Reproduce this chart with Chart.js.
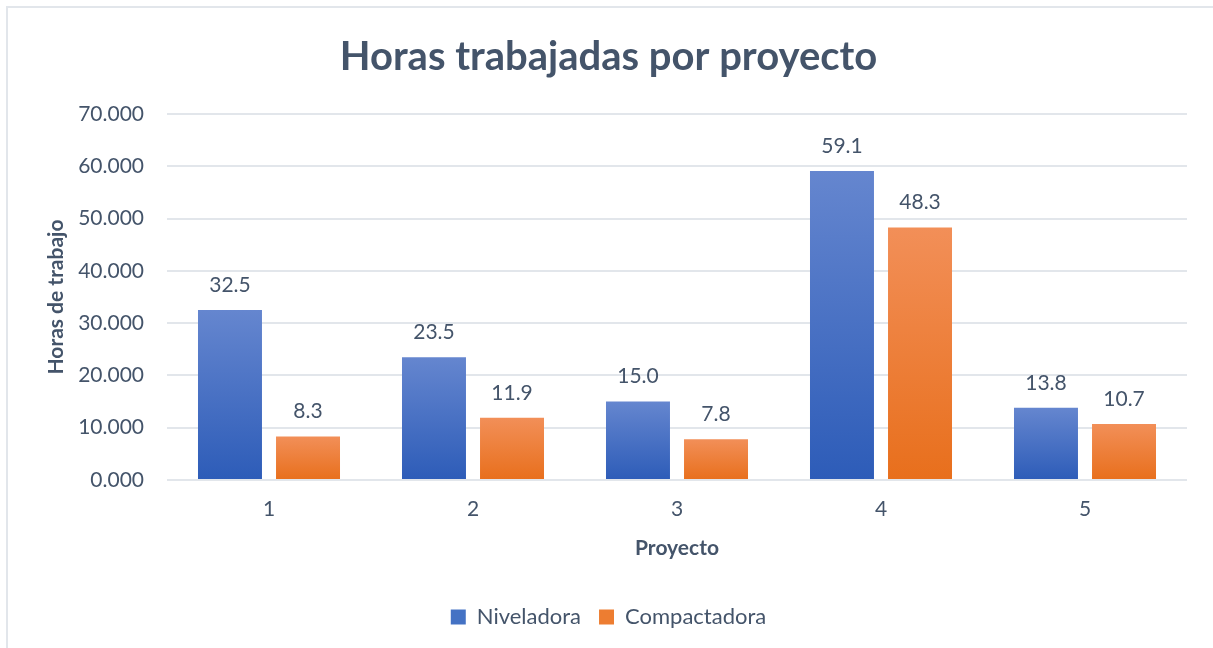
<!DOCTYPE html>
<html>
<head>
<meta charset="utf-8">
<script src="https://cdn.jsdelivr.net/npm/chart.js@4"></script>
<style>
  html, body { margin: 0; padding: 0; background: #ffffff; }
  #frame { position: absolute; left: 6px; top: 6px; width: 1240px; height: 680px; border: 2px solid #E2E6EB; box-sizing: border-box; }
  #wrap { position: absolute; left: 0; top: 0; width: 1213px; height: 648px; }
</style>
</head>
<body>
<div id="frame"></div>
<div id="wrap"><canvas id="c" width="1213" height="648"></canvas></div>
<script>
const categories = ['1', '2', '3', '4', '5'];
const niveladora = [32.5, 23.5, 15.0, 59.1, 13.8];
const compactadora = [8.3, 11.9, 7.8, 48.3, 10.7];
const seriesNames = ['Niveladora', 'Compactadora'];
const chartTitle = 'Horas trabajadas por proyecto';
const yTitle = 'Horas de trabajo';
const xTitle = 'Proyecto';

const TEXT = '#44546A';
const FONT = 'Lato';

function barGradient(top, bottom) {
  return function (ctx) {
    const chart = ctx.chart;
    const y = chart.scales && chart.scales.y;
    if (!chart.chartArea || !y || ctx.type !== 'data') return bottom;
    const v = ctx.raw;
    const yTop = y.getPixelForValue(v);
    const yBot = y.getPixelForValue(0);
    if (!isFinite(yTop) || !isFinite(yBot) || yTop === yBot) return bottom;
    const g = chart.ctx.createLinearGradient(0, yTop, 0, yBot);
    g.addColorStop(0, top);
    g.addColorStop(1, bottom);
    return g;
  };
}

const labelPlugin = {
  id: 'valueLabels',
  afterDatasetsDraw(chart) {
    const ctx = chart.ctx;
    ctx.save();
    ctx.font = '21px ' + FONT;
    ctx.fillStyle = TEXT;
    ctx.textAlign = 'center';
    ctx.textBaseline = 'middle';
    chart.data.datasets.forEach((ds, i) => {
      const meta = chart.getDatasetMeta(i);
      meta.data.forEach((bar, j) => {
        ctx.fillText(Number(ds.data[j]).toFixed(1), bar.x, bar.y - 25);
      });
    });
    ctx.restore();
  }
};

new Chart(document.getElementById('c'), {
  type: 'bar',
  data: {
    labels: categories,
    datasets: [
      {
        label: seriesNames[0],
        data: niveladora,
        backgroundColor: barGradient('#6586CF', '#2D5CB8'),
        categoryPercentage: 0.765,
        barPercentage: 0.82
      },
      {
        label: seriesNames[1],
        data: compactadora,
        backgroundColor: barGradient('#F28F58', '#E86F1C'),
        categoryPercentage: 0.765,
        barPercentage: 0.82
      }
    ]
  },
  options: {
    responsive: false,
    animation: false,
    layout: { padding: { top: 19, right: 26, bottom: 10, left: 30 } },
    plugins: {
      title: {
        display: true,
        text: chartTitle,
        color: TEXT,
        font: { family: FONT, size: 40, weight: 'bold' },
        padding: { top: 14, bottom: 33 }
      },
      legend: {
        position: 'bottom',
        labels: {
          color: TEXT,
          font: { family: FONT, size: 22 },
          boxWidth: 15,
          boxHeight: 15,
          padding: 18,
          generateLabels(chart) {
            const cols = ['#4472C4', '#ED7D31'];
            return chart.data.datasets.map((ds, i) => ({
              text: ds.label,
              fillStyle: cols[i],
              strokeStyle: cols[i],
              lineWidth: 0,
              fontColor: TEXT,
              datasetIndex: i,
              hidden: false
            }));
          }
        }
      },
      tooltip: { enabled: false }
    },
    scales: {
      x: {
        grid: { display: false },
        border: { display: false },
        ticks: { color: TEXT, font: { family: FONT, size: 21 }, padding: 9 },
        title: {
          display: true,
          text: xTitle,
          color: TEXT,
          font: { family: FONT, size: 21, weight: 'bold' },
          padding: { top: 0, bottom: 27 }
        },
        afterFit(scale) { scale.height = 108; }
      },
      y: {
        min: 0,
        max: 70,
        ticks: {
          stepSize: 10,
          color: TEXT,
          font: { family: FONT, size: 21 },
          padding: 23,
          callback: (v) => Number(v).toFixed(3)
        },
        grid: { color: '#E2E6EB', lineWidth: 2, drawTicks: false },
        border: { display: false },
        title: {
          display: true,
          text: yTitle,
          color: TEXT,
          font: { family: FONT, size: 21, weight: 'bold' },
          padding: { top: 14, bottom: 0 }
        },
        afterFit(scale) { scale.width = 137; }
      }
    }
  },
  plugins: [labelPlugin]
});
</script>
</body>
</html>
